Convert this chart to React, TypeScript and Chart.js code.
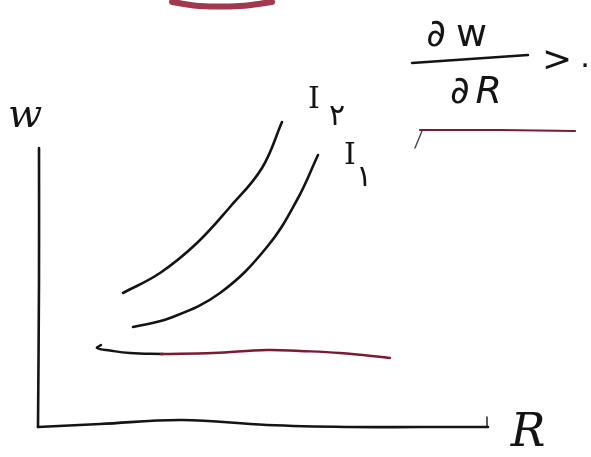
import React, { useEffect, useRef } from "react";
import { Chart, registerables } from "chart.js";

Chart.register(...registerables);

// Sketch coordinates: origin at the corner of the axes, R to the right, w upward.
const wAxis = [
  { x: 0.1, y: 27.8 },
  { x: 0.1, y: 14.6 },
  { x: 0.0, y: -0.1 },
];

const rAxis = [
  { x: 0.0, y: -0.1 },
  { x: 6.2, y: 0.2 },
  { x: 14.4, y: 0.6 },
  { x: 22.9, y: 0.1 },
  { x: 31.2, y: -0.1 },
  { x: 38.2, y: -0.1 },
  { x: 45.0, y: -0.1 },
];

const rAxisTick = [
  { x: 44.9, y: -0.1 },
  { x: 44.9, y: 0.9 },
];

// Indifference curve I2 (higher)
const curveI2 = [
  { x: 8.5, y: 13.3 },
  { x: 12.2, y: 15.3 },
  { x: 15.9, y: 18.3 },
  { x: 19.2, y: 21.9 },
  { x: 22.4, y: 25.8 },
  { x: 24.4, y: 30.4 },
];

// Indifference curve I1 (lower)
const curveI1 = [
  { x: 9.5, y: 9.9 },
  { x: 13.2, y: 10.8 },
  { x: 18.2, y: 13.3 },
  { x: 22.9, y: 17.9 },
  { x: 25.9, y: 22.6 },
  { x: 28.0, y: 27.1 },
];

// Flat line below the curves: black start, red pen after
const flatBlack = [
  { x: 6.3, y: 8.1 },
  { x: 5.9, y: 7.8 },
  { x: 7.2, y: 7.55 },
  { x: 9.2, y: 7.3 },
  { x: 12.5, y: 7.2 },
];

const flatRed = [
  { x: 12.3, y: 7.2 },
  { x: 17.5, y: 7.3 },
  { x: 22.9, y: 7.6 },
  { x: 26.2, y: 7.5 },
  { x: 30.2, y: 7.3 },
  { x: 35.2, y: 6.8 },
];

// Fraction bar of dw/dR
const fractionBar = [
  { x: 37.4, y: 36.3 },
  { x: 49.0, y: 37.1 },
];

// Red underline below the inequality
const underlineHook = [
  { x: 37.7, y: 27.8 },
  { x: 38.4, y: 29.5 },
];

const underline = [
  { x: 38.2, y: 29.6 },
  { x: 46.2, y: 29.6 },
  { x: 53.7, y: 29.5 },
];

// Red stroke clipped at the top edge
const topStroke = [
  { x: 13.4, y: 42.4 },
  { x: 16.2, y: 42.0 },
  { x: 20.2, y: 42.0 },
  { x: 23.4, y: 42.4 },
];

const INK = "#141414";
const RED = "#7d1a33";

type Note = { text: string; x: number; y: number; font: string; spacing?: string };

const notes: Note[] = [
  { text: "w", x: -1.3, y: 30.9, font: "italic 40px 'DejaVu Serif'" },
  { text: "R", x: 49.0, y: -0.8, font: "italic 46px 'DejaVu Serif'" },
  { text: "I", x: 27.6, y: 32.6, font: "30px 'DejaVu Serif'" },
  { text: "۲", x: 29.9, y: 30.9, font: "30px 'DejaVu Sans'" },
  { text: "I", x: 31.2, y: 27.0, font: "30px 'DejaVu Serif'" },
  { text: "۱", x: 32.6, y: 24.8, font: "30px 'DejaVu Sans'" },
  { text: "∂w", x: 45.9, y: 39.0, font: "38px 'DejaVu Sans'", spacing: "10px" },
  { text: "∂R", x: 47.0, y: 33.3, font: "italic 38px 'DejaVu Sans'", spacing: "6px" },
  { text: ">", x: 51.9, y: 36.4, font: "36px 'DejaVu Sans'" },
  { text: "۰", x: 54.7, y: 36.0, font: "30px 'DejaVu Sans'" },
];

const notesPlugin = {
  id: "sketchNotes",
  afterDatasetsDraw(chart: any) {
    const { ctx, scales } = chart;
    ctx.save();
    ctx.textBaseline = "middle";
    for (const n of notes) {
      ctx.font = n.font;
      ctx.fillStyle = INK;
      ctx.letterSpacing = n.spacing ?? "0px";
      const px = scales.x.getPixelForValue(n.x);
      const py = scales.y.getPixelForValue(n.y);
      if (n.spacing) {
        // spaced pairs are anchored by their right edge
        ctx.textAlign = "right";
      } else {
        ctx.textAlign = "center";
      }
      ctx.fillText(n.text, px, py);
    }
    ctx.restore();
  },
};

function stroke(data: { x: number; y: number }[], color: string, width: number, tension = 0.4) {
  return {
    data,
    borderColor: color,
    borderWidth: width,
    pointRadius: 0,
    showLine: true,
    tension,
    borderCapStyle: "round" as const,
    borderJoinStyle: "round" as const,
    fill: false,
  };
}

export default function App() {
  const canvasRef = useRef<HTMLCanvasElement | null>(null);

  useEffect(() => {
    document.body.style.margin = "0";
    document.body.style.background = "#ffffff";
    const canvas = canvasRef.current;
    if (!canvas) return;
    const chart = new Chart(canvas, {
      type: "scatter",
      data: {
        datasets: [
          stroke(topStroke, "rgba(150,36,58,0.9)", 6),
          stroke(wAxis, INK, 2.6),
          stroke(rAxis, INK, 2.6),
          stroke(rAxisTick, INK, 1.4, 0),
          stroke(curveI2, INK, 2.6),
          stroke(curveI1, INK, 2.6),
          stroke(flatRed, RED, 2.4),
          stroke(flatBlack, INK, 2.4),
          stroke(fractionBar, INK, 2.4, 0),
          stroke(underlineHook, "#444444", 1.4, 0),
          stroke(underline, RED, 2.2, 0),
        ],
      },
      options: {
        animation: false,
        responsive: true,
        maintainAspectRatio: false,
        layout: { padding: 0 },
        events: [],
        plugins: {
          legend: { display: false },
          tooltip: { enabled: false },
          title: { display: false },
        },
        scales: {
          x: { type: "linear", min: -3.8, max: 55.3, display: false },
          y: { type: "linear", min: -3.1, max: 42.6, display: false },
        },
      },
      plugins: [notesPlugin],
    });
    return () => chart.destroy();
  }, []);

  return (
    <div style={{ position: "fixed", left: 0, top: 0, width: 591, height: 457, background: "#ffffff" }}>
      <canvas ref={canvasRef} />
    </div>
  );
}
